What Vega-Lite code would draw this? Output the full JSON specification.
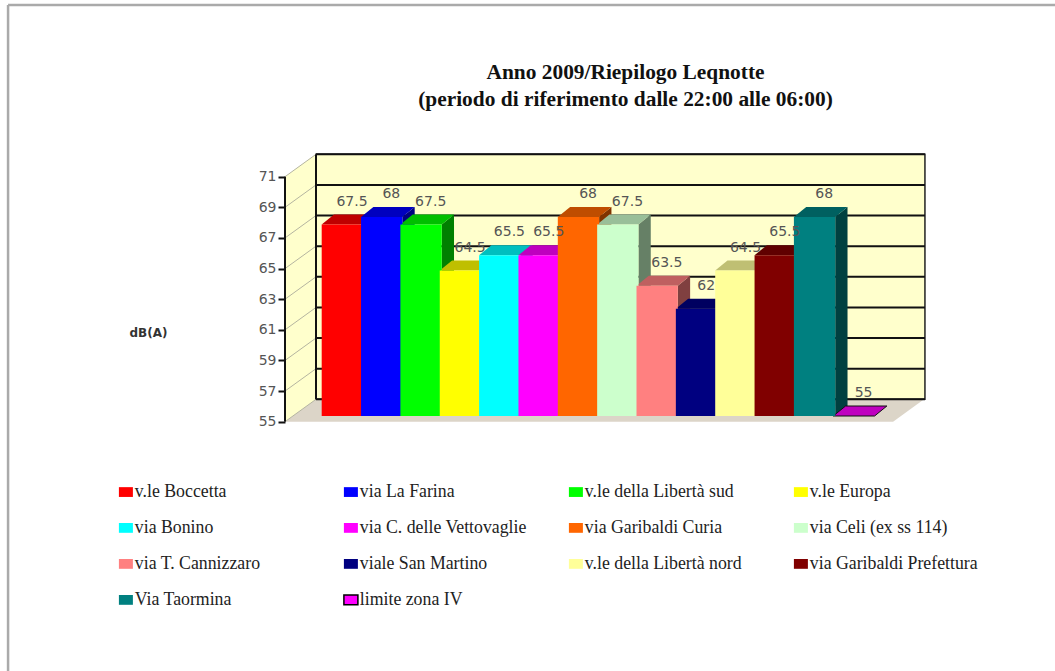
{"$schema":"https://vega.github.io/schema/vega-lite/v6.json","width":1055,"height":671,"autosize":"none","padding":0,"background":"white","config":{"view":{"stroke":null}},
"title":{"text":["Anno 2009/Riepilogo Leqnotte","(periodo di riferimento dalle 22:00 alle 06:00)"],"anchor":"middle","frame":"group","dx":98,"dy":114,"font":"Liberation Serif","fontSize":21.4,"fontWeight":"bold","color":"#111","lineHeight":27},
"datasets":{"bars":[{"n":0,"via":"v.le Boccetta","dB":67.5},{"n":1,"via":"via La Farina","dB":68},{"n":2,"via":"v.le della Libertà sud","dB":67.5},{"n":3,"via":"v.le Europa","dB":64.5},{"n":4,"via":"via Bonino","dB":65.5},{"n":5,"via":"via C. delle Vettovaglie","dB":65.5},{"n":6,"via":"via Garibaldi Curia","dB":68},{"n":7,"via":"via Celi (ex ss 114)","dB":67.5},{"n":8,"via":"via T. Cannizzaro","dB":63.5},{"n":9,"via":"viale San Martino","dB":62},{"n":10,"via":"v.le della Libertà nord","dB":64.5},{"n":11,"via":"via Garibaldi Prefettura","dB":65.5},{"n":12,"via":"Via Taormina","dB":68},{"n":13,"via":"limite zona IV","dB":55}],
"ticks":[{"t":55},{"t":57},{"t":59},{"t":61},{"t":63},{"t":65},{"t":67},{"t":69},{"t":71}]},
"resolve":{"scale":{"color":"independent"}},
"layer":[
{"data":{"values":[{}]},"mark":{"type":"rule","color":"#aaaaaa","strokeWidth":2.5},"encoding":{"x":{"datum":-7.97,"type":"quantitative","axis":null,"scale":{"domain":[-8.175,18.635],"nice":false,"zero":false}},"y":{"datum":82.21,"type":"quantitative","scale":{"domain":[38.72,82.54],"nice":false,"zero":false},"axis":{"values":[55,57,59,61,63,65,67,69,71],"offset":-285,"domain":false,"grid":false,"tickSize":7,"tickWidth":2,"tickColor":"#111","labelFont":"DejaVu Sans","labelFontSize":14,"labelColor":"#555","labelPadding":2,"title":"dB(A)","titleAngle":0,"titleX":-137,"titleY":332,"titleFont":"DejaVu Sans","titleFontSize":12,"titleFontWeight":"bold","titleColor":"#333","titleAlign":"center","titleBaseline":"middle"}},"y2":{"datum":38.72}}},
{"data":{"values":[{}]},"mark":{"type":"rule","color":"#aaaaaa","strokeWidth":2.5},"encoding":{"x":{"datum":-7.97,"type":"quantitative","axis":null,"scale":{"domain":[-8.175,18.635],"nice":false,"zero":false}},"x2":{"datum":18.635},"y":{"datum":82.21,"type":"quantitative","scale":{"domain":[38.72,82.54],"nice":false,"zero":false}}}},
{"data":{"values":[{}]},"transform":[{"calculate":"[0,1]","as":"d"},{"flatten":["d"]},{"calculate":"-0.9325+datum.d*0.788","as":"px"},{"calculate":"55+datum.d*1.463","as":"y0"},{"calculate":"71+datum.d*1.463","as":"y1"}],"mark":{"type":"area","color":"#ffffcc","orient":"vertical"},"encoding":{"x":{"field":"px","type":"quantitative","axis":null,"scale":{"domain":[-8.175,18.635],"nice":false,"zero":false}},"y":{"field":"y0","type":"quantitative","scale":{"domain":[38.72,82.54],"nice":false,"zero":false}},"y2":{"field":"y1"}}},
{"data":{"values":[{}]},"transform":[{"calculate":"[0,1]","as":"d"},{"flatten":["d"]},{"calculate":"-0.9325+datum.d*0.788","as":"x0"},{"calculate":"14.52+datum.d*0.788","as":"x1"},{"calculate":"55+datum.d*1.463","as":"yy"}],"mark":{"type":"area","color":"#dcd5c8","orient":"horizontal"},"encoding":{"x":{"field":"x0","type":"quantitative","axis":null,"scale":{"domain":[-8.175,18.635],"nice":false,"zero":false}},"x2":{"field":"x1"},"y":{"field":"yy","type":"quantitative","scale":{"domain":[38.72,82.54],"nice":false,"zero":false}}}},
{"data":{"values":[{}]},"mark":{"type":"rect","fill":"#ffffcc","stroke":"#222","strokeWidth":1.5},"encoding":{"x":{"datum":-0.1445,"type":"quantitative","axis":null,"scale":{"domain":[-8.175,18.635],"nice":false,"zero":false}},"x2":{"datum":15.33},"y":{"datum":56.463,"type":"quantitative","scale":{"domain":[38.72,82.54],"nice":false,"zero":false}},"y2":{"datum":72.463}}},
{"data":{"name":"ticks"},"transform":[{"calculate":"datum.t+1.463","as":"yb"}],"mark":{"type":"rule","color":"#111","strokeWidth":2},"encoding":{"x":{"datum":-0.1445,"type":"quantitative","axis":null,"scale":{"domain":[-8.175,18.635],"nice":false,"zero":false}},"x2":{"datum":15.33},"y":{"field":"yb","type":"quantitative","scale":{"domain":[38.72,82.54],"nice":false,"zero":false}}}},
{"data":{"name":"ticks"},"transform":[{"calculate":"datum.t+1.463","as":"yb"}],"mark":{"type":"rule","color":"#b5b5a0","strokeWidth":1},"encoding":{"x":{"datum":-0.9325,"type":"quantitative","axis":null,"scale":{"domain":[-8.175,18.635],"nice":false,"zero":false}},"x2":{"datum":-0.1445},"y":{"field":"t","type":"quantitative","scale":{"domain":[38.72,82.54],"nice":false,"zero":false}},"y2":{"field":"yb"}}},
{"data":{"values":[{}]},"mark":{"type":"rule","color":"#111","strokeWidth":2},"encoding":{"x":{"datum":-0.9325,"type":"quantitative","axis":null,"scale":{"domain":[-8.175,18.635],"nice":false,"zero":false}},"y":{"datum":55,"type":"quantitative","scale":{"domain":[38.72,82.54],"nice":false,"zero":false}},"y2":{"datum":71}}},
{"data":{"values":[{}]},"mark":{"type":"rule","color":"#111","strokeWidth":2},"encoding":{"x":{"datum":-0.1445,"type":"quantitative","axis":null,"scale":{"domain":[-8.175,18.635],"nice":false,"zero":false}},"y":{"datum":56.463,"type":"quantitative","scale":{"domain":[38.72,82.54],"nice":false,"zero":false}},"y2":{"datum":72.463}}},
{"data":{"name":"bars"},"transform":[{"calculate":"[0,1]","as":"d"},{"flatten":["d"]},{"calculate":"datum.n+1.05+datum.d*0.3126","as":"xs"},{"calculate":"datum.dB+0.372+datum.d*0.653","as":"yt"},{"calculate":"55.372+datum.d*0.653","as":"yb"}],"mark":{"type":"area","orient":"vertical"},"encoding":{"x":{"field":"xs","type":"quantitative","axis":null,"scale":{"domain":[-8.175,18.635],"nice":false,"zero":false}},"y":{"field":"yt","type":"quantitative","scale":{"domain":[38.72,82.54],"nice":false,"zero":false}},"y2":{"field":"yb"},"color":{"field":"via","type":"nominal","legend":null,"scale":{"domain":["v.le Boccetta","via La Farina","v.le della Libertà sud","v.le Europa","via Bonino","via C. delle Vettovaglie","via Garibaldi Curia","via Celi (ex ss 114)","via T. Cannizzaro","viale San Martino","v.le della Libertà nord","via Garibaldi Prefettura","Via Taormina","limite zona IV"],"range":["#800000","#000080","#008000","#808000","#008080","#800080","#803300","#668066","#804040","#000040","#80804d","#400000","#004040","#800080"]}}}},
{"data":{"name":"bars"},"transform":[{"calculate":"[0,1]","as":"d"},{"flatten":["d"]},{"calculate":"datum.n+datum.d*0.3126","as":"x0"},{"calculate":"datum.n+1.05+datum.d*0.3126","as":"x1"},{"calculate":"datum.dB+0.372+datum.d*0.653","as":"yy"}],"mark":{"type":"area","orient":"horizontal"},"encoding":{"x":{"field":"x0","type":"quantitative","axis":null,"scale":{"domain":[-8.175,18.635],"nice":false,"zero":false}},"x2":{"field":"x1"},"y":{"field":"yy","type":"quantitative","scale":{"domain":[38.72,82.54],"nice":false,"zero":false}},"color":{"field":"via","type":"nominal","legend":null,"scale":{"domain":["v.le Boccetta","via La Farina","v.le della Libertà sud","v.le Europa","via Bonino","via C. delle Vettovaglie","via Garibaldi Curia","via Celi (ex ss 114)","via T. Cannizzaro","viale San Martino","v.le della Libertà nord","via Garibaldi Prefettura","Via Taormina","limite zona IV"],"range":["#bf0000","#0000bf","#00bf00","#bfbf00","#00bfbf","#bf00bf","#bf4d00","#99bf99","#bf6060","#000060","#bfbf73","#600000","#006060","#bf00bf"]}},"stroke":{"condition":{"test":"datum.dB===55","value":"#111"},"value":null}}},
{"data":{"name":"bars"},"transform":[{"calculate":"datum.n+1.05","as":"x1"},{"calculate":"datum.dB+0.372","as":"yt"},{"calculate":"55.372","as":"yb"}],"mark":{"type":"rect"},"encoding":{"x":{"field":"n","type":"quantitative","axis":null,"scale":{"domain":[-8.175,18.635],"nice":false,"zero":false}},"x2":{"field":"x1"},"y":{"field":"yt","type":"quantitative","scale":{"domain":[38.72,82.54],"nice":false,"zero":false}},"y2":{"field":"yb"},"color":{"field":"via","type":"nominal","scale":{"domain":["v.le Boccetta","via La Farina","v.le della Libertà sud","v.le Europa","via Bonino","via C. delle Vettovaglie","via Garibaldi Curia","via Celi (ex ss 114)","via T. Cannizzaro","viale San Martino","v.le della Libertà nord","via Garibaldi Prefettura","Via Taormina","limite zona IV"],"range":["#ff0000","#0000ff","#00ff00","#ffff00","#00ffff","#ff00ff","#ff6600","#ccffcc","#ff8080","#000080","#ffff99","#800000","#008080","#ff00ff"]},"legend":{"orient":"none","legendX":117,"legendY":483,"direction":"horizontal","columns":4,"title":null,"gridAlign":"all","columnPadding":37,"rowPadding":17,"symbolType":"M-1,-0.7H1V0.7H-1Z","symbolSize":196,"labelFont":"Liberation Serif","labelFontSize":17.8,"labelColor":"#222","labelOffset":0,"labelLimit":300,"padding":0,"encode":{"symbols":{"update":{"stroke":{"signal":"datum.value==='limite zona IV'?'#000':'transparent'"},"strokeWidth":{"value":1.5}}}}}}}},
{"data":{"name":"bars"},"transform":[{"calculate":"datum.n+0.77","as":"lx"},{"calculate":"datum.dB+1.87","as":"ly"}],"mark":{"type":"text","font":"DejaVu Sans","fontSize":14,"color":"#555","baseline":"middle","align":"center"},"encoding":{"x":{"field":"lx","type":"quantitative","axis":null,"scale":{"domain":[-8.175,18.635],"nice":false,"zero":false}},"y":{"field":"ly","type":"quantitative","scale":{"domain":[38.72,82.54],"nice":false,"zero":false}},"text":{"field":"dB","type":"nominal"}}}
]}
